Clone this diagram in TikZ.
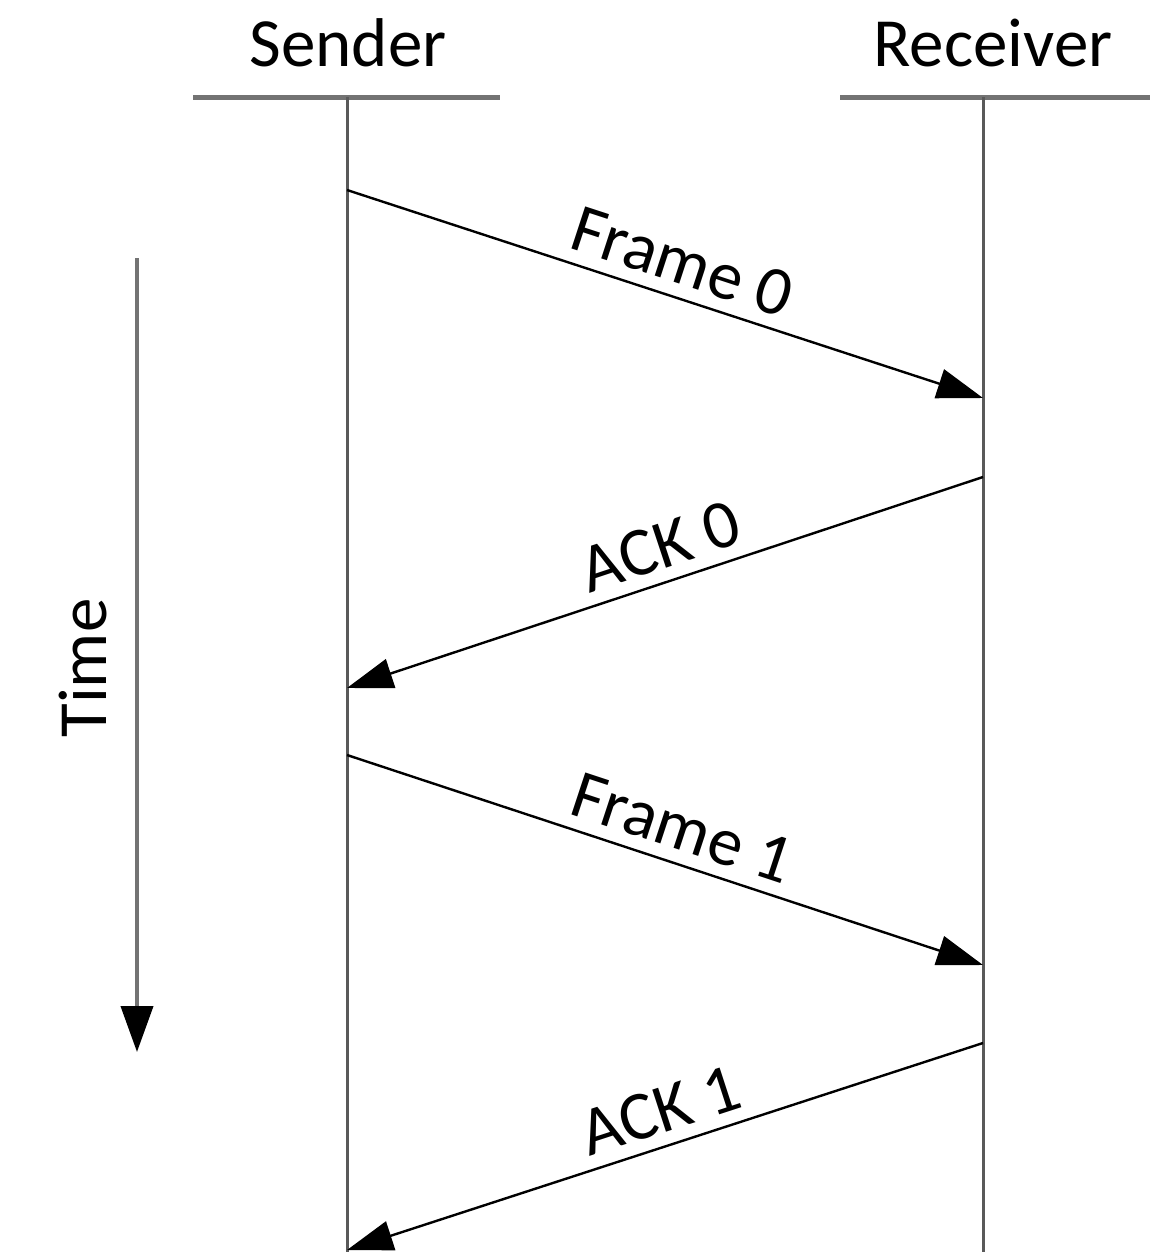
\documentclass[tikz,border=0pt]{standalone}
\usepackage{fontspec}
\setmainfont{Carlito}
\usetikzlibrary{arrows.meta}
\begin{document}
\begin{tikzpicture}[x=1pt,y=-1pt,
  lbl/.style={font=\fontsize{69}{80}\selectfont, inner sep=0pt},
  header/.style={line width=5pt, draw=black!55},
  lifeline/.style={line width=3pt, draw=black!65},
  msg/.style={line width=2.4pt, draw=black, -{Triangle[length=46pt,width=30pt]}},
  msglbl/.style={lbl, sloped, above=12pt}]
\useasboundingbox (0,0) rectangle (1153,1254);
% headers
\node[lbl, anchor=base] (sender) at (348,66) {Sender};
\node[lbl, anchor=base] (receiver) at (993,66) {Receiver};
\coordinate (sl) at (193,97); \coordinate (sr) at (500,97);
\coordinate (rl) at (840,97); \coordinate (rr) at (1150,97);
\draw[header] (sl) -- (sr);
\draw[header] (rl) -- (rr);
% lifelines
\coordinate (stop) at (347,97); \coordinate (sbot) at (347,1252);
\coordinate (rtop) at (983,97); \coordinate (rbot) at (983,1252);
\draw[lifeline] (stop) -- (sbot);
\draw[lifeline] (rtop) -- (rbot);
% message end points
\coordinate (f0s) at (347,190); \coordinate (f0e) at (983,398);
\coordinate (a0s) at (983,477); \coordinate (a0e) at (347,688);
\coordinate (f1s) at (347,755); \coordinate (f1e) at (983,965);
\coordinate (a1s) at (983,1043); \coordinate (a1e) at (347,1250);
\draw[msg] (f0s) -- node[msglbl, pos=0.51] (f0l) {Frame 0} (f0e);
\draw[msg] (a0s) -- node[msglbl, pos=0.49] (a0l) {ACK 0} (a0e);
\draw[msg] (f1s) -- node[msglbl, pos=0.51] (f1l) {Frame 1} (f1e);
\draw[msg] (a1s) -- node[msglbl, pos=0.49] (a1l) {ACK 1} (a1e);
% time axis
\coordinate (ttop) at (137,258); \coordinate (tbot) at (137,1052);
\draw[line width=4pt, draw=black!55, -{Triangle[length=46pt,width=32pt,fill=black,color=black]}] (ttop) -- (tbot);
\node[lbl, rotate=90] (time) at (83,668) {Time};
\end{tikzpicture}
\end{document}
